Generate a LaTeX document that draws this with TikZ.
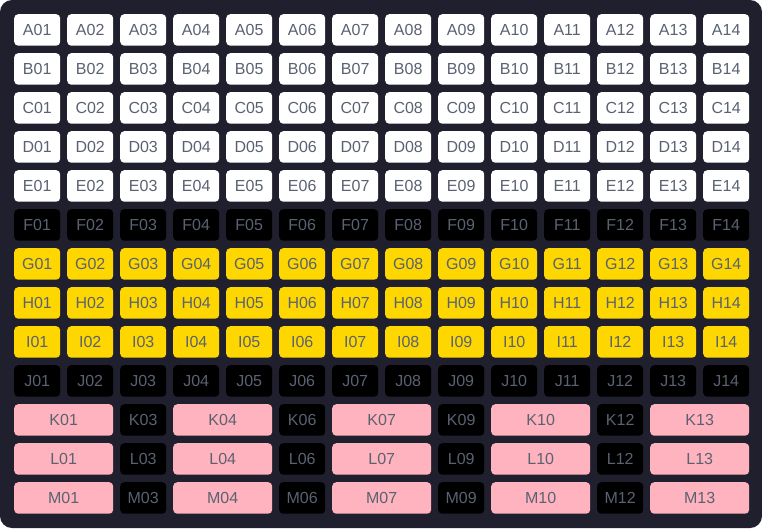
\documentclass[tikz,border=0pt]{standalone}
\usepackage{fontspec}
\setmainfont{Liberation Sans}
\definecolor{bgdark}{HTML}{1F1F2E}
\definecolor{txtgray}{HTML}{5A6272}
\definecolor{cellyellow}{HTML}{FFD700}
\definecolor{cellpink}{HTML}{FFB3BE}
\tikzset{
  cellbase/.style={rounded corners=4pt, minimum height=31.5pt, inner sep=0pt, anchor=north west, text=txtgray, font=\fontsize{16pt}{18pt}\selectfont},
  whitecell/.style={cellbase, fill=white, minimum width=46pt},
  blackcell/.style={cellbase, fill=black, minimum width=46pt},
  yellowcell/.style={cellbase, fill=cellyellow, minimum width=46pt},
  pinkcell/.style={cellbase, fill=cellpink, minimum width=99pt},
}
\begin{document}
\begin{tikzpicture}[x=1pt,y=-1pt]
\useasboundingbox (0,0) rectangle (762,528);
\fill[white] (0,0) rectangle (762,528);
\fill[bgdark, rounded corners=12pt] (0,0) rectangle (762,528);
% rows A-J
\foreach \r/\L/\sty in {0/A/whitecell,1/B/whitecell,2/C/whitecell,3/D/whitecell,4/E/whitecell,5/F/blackcell,6/G/yellowcell,7/H/yellowcell,8/I/yellowcell,9/J/blackcell}{
  \foreach \c/\n in {0/01,1/02,2/03,3/04,4/05,5/06,6/07,7/08,8/09,9/10,10/11,11/12,12/13,13/14}{
    \node[\sty] (\L\n) at ({14+53*\c},{14+39*\r}) {\L\n};
  }
}
% rows K-M
\foreach \r/\L in {10/K,11/L,12/M}{
  \foreach \c/\n in {0/01,3/04,6/07,9/10,12/13}{
    \node[pinkcell] (\L\n) at ({14+53*\c},{14+39*\r}) {\L\n};
  }
  \foreach \c/\n in {2/03,5/06,8/09,11/12}{
    \node[blackcell] (\L\n) at ({14+53*\c},{14+39*\r}) {\L\n};
  }
}
\end{tikzpicture}
\end{document}
